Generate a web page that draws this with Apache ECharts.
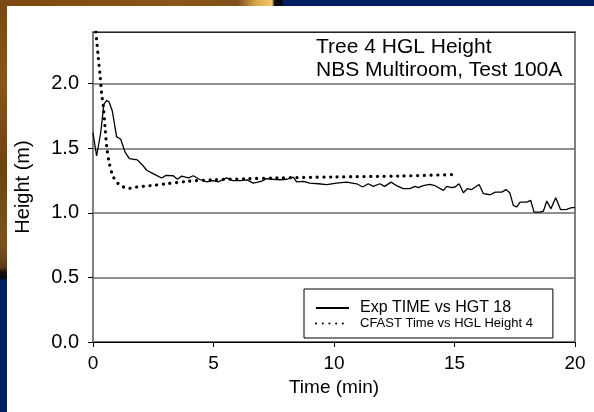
<!DOCTYPE html>
<html>
<head>
<meta charset="utf-8">
<script src="https://cdn.jsdelivr.net/npm/echarts@6/dist/echarts.min.js"></script>
<style>
html,body{margin:0;padding:0;background:#fff;}
#chart{width:594px;height:412px;}
</style>
</head>
<body>
<div id="chart"></div>
<script>
// ---- data ----
const chartTitle = 'Tree 4 HGL Height\nNBS Multiroom, Test 100A';
const seriesNames = ['Exp TIME vs HGT 18', 'CFAST Time vs HGL Height 4'];
const xTicks = [0, 5, 10, 15, 20];
const yTicks = [0, 0.5, 1.0, 1.5, 2.0];
const xRange = [0, 20];
const yRange = [0, 2.4];
const expTime = [0,0.15,0.32,0.45,0.57,0.66,0.8,0.98,1.15,1.33,1.51,1.84,2.05,2.23,2.53,2.85,3.03,3.33,3.5,3.68,3.96,4.16,4.41,4.72,4.99,5.2,5.41,5.55,5.8,6.1,6.4,6.65,6.79,7.0,7.2,7.45,7.76,8.05,8.31,8.45,8.73,9.0,9.35,9.7,10.1,10.52,10.94,11.19,11.42,11.63,11.9,12.1,12.37,12.6,12.87,13.15,13.36,13.5,13.7,13.98,14.19,14.54,14.68,14.88,15.02,15.19,15.37,15.53,15.71,16.02,16.2,16.47,16.7,16.96,17.14,17.3,17.44,17.58,17.72,18.0,18.16,18.3,18.55,18.69,18.83,19.0,19.2,19.4,19.65,19.86,20];
const expHeight = [1.62,1.44,1.62,1.84,1.87,1.86,1.79,1.59,1.57,1.47,1.42,1.41,1.37,1.33,1.30,1.27,1.29,1.287,1.26,1.284,1.27,1.287,1.26,1.24,1.25,1.24,1.26,1.27,1.25,1.25,1.255,1.23,1.235,1.245,1.265,1.26,1.256,1.26,1.277,1.24,1.243,1.23,1.225,1.218,1.23,1.238,1.225,1.2,1.225,1.205,1.225,1.205,1.238,1.21,1.187,1.187,1.205,1.195,1.21,1.22,1.21,1.174,1.205,1.195,1.2,1.225,1.156,1.187,1.18,1.22,1.148,1.14,1.16,1.16,1.18,1.153,1.058,1.045,1.083,1.083,1.097,1.006,1.006,1.014,1.091,1.032,1.117,1.025,1.027,1.04,1.04];
const cfastTime = [0.12,0.22,0.29,0.36,0.43,0.5,0.57,0.68,0.84,1.05,1.26,1.51,1.81,2.37,3.06,3.89,4.99,6.38,7.62,10,12.74,15];
const cfastHeight = [2.4,2.2,2.07,1.92,1.82,1.66,1.51,1.38,1.28,1.225,1.2,1.19,1.2,1.21,1.225,1.243,1.256,1.264,1.27,1.278,1.285,1.297];

const zip = (a, b) => a.map((v, i) => [v, b[i]]);
const FONT = '"Liberation Sans", Arial, sans-serif';

const chart = echarts.init(document.getElementById('chart'), null, {renderer: 'canvas'});
chart.setOption({
  backgroundColor: '#ffffff',
  animation: false,
  textStyle: {fontFamily: FONT, color: '#000'},
  graphic: [
    // decorative slide frame (left strip & top strip)
    {type: 'rect', left: 0, top: 0, z: -10, silent: true,
      shape: {width: 7, height: 412},
      style: {fill: new echarts.graphic.LinearGradient(0, 0, 0, 1, [
        {offset: 0, color: '#7a4811'}, {offset: 0.2, color: '#8a5518'},
        {offset: 0.4, color: '#6e4312'}, {offset: 0.6, color: '#7d5120'},
        {offset: 0.65, color: '#5a3a16'}, {offset: 0.66, color: '#111'},
        {offset: 0.675, color: '#0a0a14'}, {offset: 0.68, color: '#00205f'},
        {offset: 1, color: '#00205f'}])}},
    {type: 'rect', left: 0, top: 0, z: -10, silent: true,
      shape: {width: 594, height: 6},
      style: {fill: new echarts.graphic.LinearGradient(0, 0, 1, 0, [
        {offset: 0, color: '#7a4811'}, {offset: 0.3, color: '#8a5518'},
        {offset: 0.4, color: '#7d4f1a'}, {offset: 0.43, color: '#d9a24a'},
        {offset: 0.458, color: '#f2c866'}, {offset: 0.462, color: '#111'},
        {offset: 0.475, color: '#050505'}, {offset: 0.477, color: '#00205f'},
        {offset: 1, color: '#00205f'}])}}
  ],
  title: {
    text: chartTitle,
    left: 316, top: 36, padding: 0,
    textStyle: {fontFamily: FONT, fontSize: 21, fontWeight: 'normal', color: '#000', lineHeight: 23}
  },
  legend: {
    orient: 'vertical',
    left: 304, top: 289,
    padding: [11, 20, 8, 11],
    itemGap: 1,
    itemWidth: 33, itemHeight: 14,
    backgroundColor: '#fff',
    borderColor: '#000', borderWidth: 1,
    itemStyle: {opacity: 0},
    data: [
      {name: seriesNames[0], textStyle: {fontSize: 16, padding: [0, 0, 0, 6]}},
      {name: seriesNames[1], textStyle: {fontSize: 13, padding: [0, 0, 0, 6]}}
    ],
    textStyle: {fontFamily: FONT, color: '#000'}
  },
  grid: {left: 93, right: 19, top: 32, bottom: 70, show: true, borderColor: '#808080', borderWidth: 2, backgroundColor: '#fff'},
  xAxis: [{
    type: 'value', min: xRange[0], max: xRange[1], interval: 5,
    name: 'Time (min)', nameLocation: 'middle', nameGap: 35,
    nameTextStyle: {fontFamily: FONT, fontSize: 19, color: '#000'},
    axisLine: {show: true, lineStyle: {color: '#000', width: 1}},
    axisTick: {show: true, inside: false, length: 5, lineStyle: {color: '#000'}},
    axisLabel: {fontFamily: FONT, fontSize: 19, color: '#000', margin: 12, customValues: xTicks},
    splitLine: {show: false}
  }, {
    type: 'value', position: 'top', min: xRange[0], max: xRange[1],
    axisLine: {show: true, onZero: false, lineStyle: {color: '#222', width: 1}},
    axisTick: {show: false}, axisLabel: {show: false}, splitLine: {show: false}
  }],
  yAxis: {
    type: 'value', min: yRange[0], max: yRange[1], interval: 0.5,
    name: 'Height (m)', nameLocation: 'middle', nameGap: 60,
    nameTextStyle: {fontFamily: FONT, fontSize: 20, color: '#000'},
    axisLine: {show: true, lineStyle: {color: '#808080', width: 2}},
    axisTick: {show: true, inside: false, length: 5, lineStyle: {color: '#000'}, customValues: yTicks},
    axisLabel: {fontFamily: FONT, fontSize: 20, color: '#000', margin: 14, customValues: yTicks,
      formatter: v => v.toFixed(1)},
    splitLine: {show: true, lineStyle: {color: '#6a6a6a', width: 1.5}}
  },
  series: [
    {
      name: seriesNames[0], type: 'line', xAxisIndex: 0,
      data: zip(expTime, expHeight),
      showSymbol: false, symbol: 'none',
      lineStyle: {color: '#000', width: 1.3},
      itemStyle: {color: '#000'}
    },
    {
      name: seriesNames[1], type: 'line', xAxisIndex: 0, smooth: 0.3,
      data: zip(cfastTime, cfastHeight),
      showSymbol: false, symbol: 'none',
      lineStyle: {color: '#000', width: 3.2, type: [0.1, 6.6], cap: 'round'},
      itemStyle: {color: '#000'}
    }
  ]
});
</script>
</body>
</html>
